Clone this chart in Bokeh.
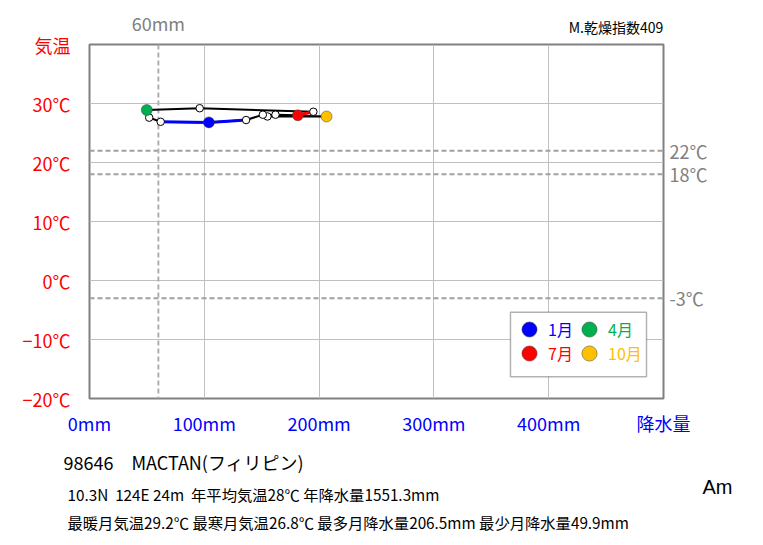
from bokeh.plotting import figure
from bokeh.models import (Range1d, FixedTicker, LinearAxis, Span, Title,
                          BoxAnnotation, Legend, LegendItem)
from bokeh.embed import file_html
from bokeh.resources import INLINE

# ---------------- data ----------------
months = ["1月", "2月", "3月", "4月", "5月", "6月", "7月", "8月", "9月", "10月", "11月", "12月"]
precip = [104, 62, 52, 49.9, 96, 195, 181.5, 162, 155, 206.5, 151, 136.4]
temp = [26.8, 26.9, 27.6, 28.9, 29.2, 28.6, 28.0, 28.1, 27.8, 27.8, 28.1, 27.2]

temp_ticks = [-20, -10, 0, 10, 20, 30, 40]
temp_labels = ["−20℃", "−10℃", "0℃", "10℃", "20℃", "30℃", "気温"]
precip_ticks = [0, 100, 200, 300, 400, 500]
precip_labels = ["0mm", "100mm", "200mm", "300mm", "400mm", "降水量"]
ref_temps = [22, 18, -3]
ref_temp_labels = ["22℃", "18℃", "-3℃"]
ref_precip = [60]
ref_precip_labels = ["60mm"]

highlight_idx = [0, 3, 6, 9]
highlight_colors = ["#0000ff", "#00b050", "#ff0000", "#ffc000"]
winter_idx = [11, 0, 1]
summer_idx = [5, 6]

title_line1 = "98646　MACTAN(フィリピン)"
title_line2 = "10.3N\u00a0\u00a0124E 24m\u00a0\u00a0年平均気温28℃ 年降水量1551.3mm"
title_line3 = "最暖月気温29.2℃ 最寒月気温26.8℃ 最多月降水量206.5mm 最少月降水量49.9mm"
climate_class = "Am"
dryness = "M.乾燥指数409"
dryness_pos = [458.6]

JP = "Noto Sans CJK JP"
GRAY = "#808080"

# ---------------- figure ----------------
p = figure(frame_width=574, frame_height=354,
           min_border_left=89, min_border_right=84,
           min_border_top=44, min_border_bottom=120,
           x_range=Range1d(0, 500), y_range=Range1d(-20, 40),
           output_backend="svg", toolbar_location=None,
           background_fill_color="white", border_fill_color="white")
p.outline_line_color = GRAY
p.outline_line_width = 2

def style_axis(ax, ticks, labels, color, standoff, size="18px", font=JP):
    ax.ticker = FixedTicker(ticks=ticks)
    ax.major_label_overrides = {t: l for t, l in zip(ticks, labels)}
    ax.axis_line_color = None
    ax.major_tick_line_color = None
    ax.minor_tick_line_color = None
    ax.major_tick_out = 0
    ax.major_tick_in = 0
    ax.major_label_text_color = color
    ax.major_label_text_font = font
    ax.major_label_text_font_size = size
    ax.major_label_standoff = standoff

style_axis(p.xaxis[0], precip_ticks, precip_labels, "#0000ff", 11)
style_axis(p.yaxis[0], temp_ticks, temp_labels, "#ff0000", 19)

# top: dryness index (inner panel) and the 60mm label (outer panel, pulled back in)
dry_ax = LinearAxis()
style_axis(dry_ax, dryness_pos, [dryness], "black", 8, size="14px")
p.add_layout(dry_ax, "above")

top_ax = LinearAxis()
style_axis(top_ax, ref_precip, ref_precip_labels, GRAY, -22)
p.add_layout(top_ax, "above")

right_ax = LinearAxis()
style_axis(right_ax, ref_temps, ref_temp_labels, GRAY, 6)
p.add_layout(right_ax, "right")

p.xgrid.ticker = FixedTicker(ticks=precip_ticks)
p.ygrid.ticker = FixedTicker(ticks=temp_ticks)
p.xgrid.grid_line_color = "#c0c0c0"
p.ygrid.grid_line_color = "#c0c0c0"

for t in ref_temps:
    p.add_layout(Span(location=t, dimension="width", line_color="#a0a0a0",
                      line_width=2, line_dash="5 3", level="underlay"))
for r in ref_precip:
    p.add_layout(Span(location=r, dimension="height", line_color="#b0b0b0",
                      line_width=2, line_dash="5 3", level="underlay"))

# ---------------- climograph ----------------
loop_x = precip + [precip[0]]
loop_y = temp + [temp[0]]
p.line(loop_x, loop_y, line_color="black", line_width=2)
p.line([precip[i] for i in winter_idx], [temp[i] for i in winter_idx],
       line_color="#0000ff", line_width=3)
p.line([precip[i] for i in summer_idx], [temp[i] for i in summer_idx],
       line_color="#ff0000", line_width=3)

others = [i for i in range(12) if i not in highlight_idx]
p.scatter([precip[i] for i in others], [temp[i] for i in others], size=7.5,
          fill_color="white", line_color="black", line_width=1)

hl_renderers = []
for i, c in zip(highlight_idx, highlight_colors):
    r = p.scatter([precip[i]], [temp[i]], size=11, fill_color=c,
                  line_color="#404040", line_width=0.5)
    hl_renderers.append(r)

# ---------------- legend ----------------
p.add_layout(BoxAnnotation(left=366.7, right=485.2, top=-5.4, bottom=-16.3,
                           fill_color="white", fill_alpha=1.0,
                           line_color="black", line_width=1.5))
leg_locs = [(421, 50), (481, 50), (421, 26), (481, 26)]
for r, i, c, loc in zip(hl_renderers, highlight_idx, highlight_colors, leg_locs):
    leg = Legend(items=[LegendItem(label=months[i], renderers=[r])], location=loc,
                 border_line_alpha=0, background_fill_alpha=0, padding=0,
                 margin=0, spacing=0, glyph_width=38, glyph_height=38,
                 label_standoff=-10, label_text_font=JP,
                 label_text_font_size="16px", label_text_color=c)
    p.add_layout(leg)

# ---------------- station texts below the chart ----------------
def add_title(text, offset, standoff, size, font=JP):
    p.add_layout(Title(text=text, align="left", offset=offset, standoff=standoff,
                       vertical_align="top", text_font=font,
                       text_font_size=size, text_font_style="normal",
                       text_color="black"), "below")

add_title(title_line1, -26, 21, "18px")
add_title(climate_class, 613, -23, "20px", font="Liberation Sans")
add_title(title_line2, -22, -12, "15.3px")
add_title(title_line3, -22, 20, "15.3px")

open("out.html", "w").write(file_html(p, INLINE))
